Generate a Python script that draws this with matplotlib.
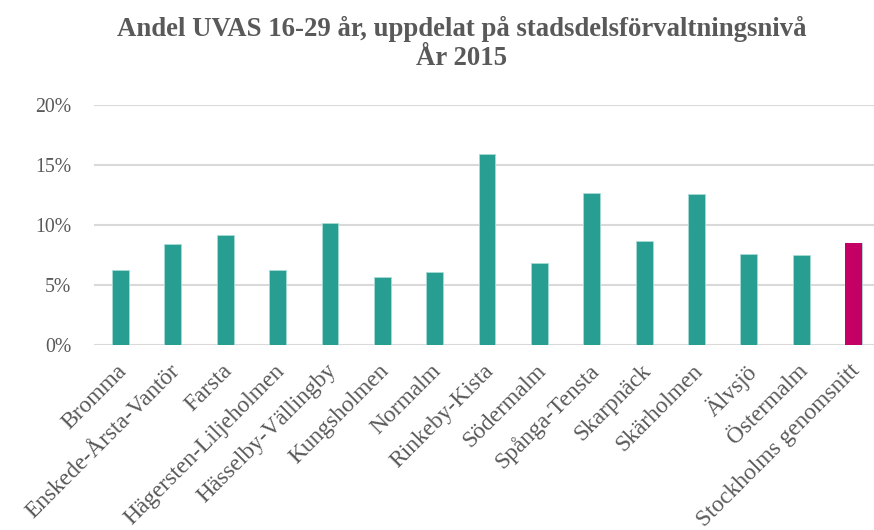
import matplotlib
matplotlib.use("Agg")
from matplotlib import pyplot as plt
from matplotlib.ticker import PercentFormatter
from matplotlib.transforms import ScaledTranslation

districts = [
    "Bromma", "Enskede-Årsta-Vantör", "Farsta", "Hägersten-Liljeholmen",
    "Hässelby-Vällingby", "Kungsholmen", "Normalm", "Rinkeby-Kista",
    "Södermalm", "Spånga-Tensta", "Skarpnäck", "Skärholmen", "Älvsjö",
    "Östermalm", "Stockholms genomsnitt",
]
share = [6.25, 8.4, 9.17, 6.25, 10.2, 5.67, 6.1, 15.9,
         6.86, 12.7, 8.64, 12.6, 7.6, 7.47, 8.47]
yticks = [0, 5, 10, 15, 20]

teal = "#289e92"
magenta = "#c40065"
grey = "#595959"

plt.rcParams["font.family"] = ["Liberation Serif", "DejaVu Serif"]

fig = plt.figure(figsize=(8.74, 5.3), dpi=100)
ax = fig.add_axes([94.3 / 874, 185 / 530, (874 - 94.3) / 874, 240 / 530])

colors = [teal] * (len(share) - 1) + [magenta]
ax.bar(range(len(share)), share, width=0.32, color=colors,
       edgecolor="#a8dcd6", linewidth=0.6, zorder=3)
ax.bar(len(share) - 1, share[-1], width=0.32, color=magenta, zorder=4)

ax.set_xlim(-0.5, 14.39)
ax.set_ylim(0, 20)
ax.set_yticks(yticks)
ax.yaxis.set_major_formatter(PercentFormatter(decimals=0))
ax.grid(axis="y", color="#d9d9d9", linewidth=1.5, zorder=0)
for s in ax.spines.values():
    s.set_visible(False)
ax.tick_params(axis="both", length=0, colors=grey)
ax.tick_params(axis="y", pad=16.5, labelsize=14.2)
ax.tick_params(axis="x", pad=11, labelsize=16.8)
ax.set_xticks(range(len(districts)))
ax.set_xticklabels(districts, rotation=45, ha="right", va="top",
                   rotation_mode="anchor")
# nudge labels a little left, like the original
shift = ScaledTranslation(-4 / 100, 0, fig.dpi_scale_trans)
for lbl in ax.get_xticklabels():
    lbl.set_transform(lbl.get_transform() + shift)

fig.text(0.528, 1 - 16 / 530,
         "Andel UVAS 16-29 år, uppdelat på stadsdelsförvaltningsnivå\nÅr 2015",
         ha="center", va="top", fontsize=19.3, fontweight="bold", color=grey,
         linespacing=1.2)

fig.savefig("out.png", dpi=100)
